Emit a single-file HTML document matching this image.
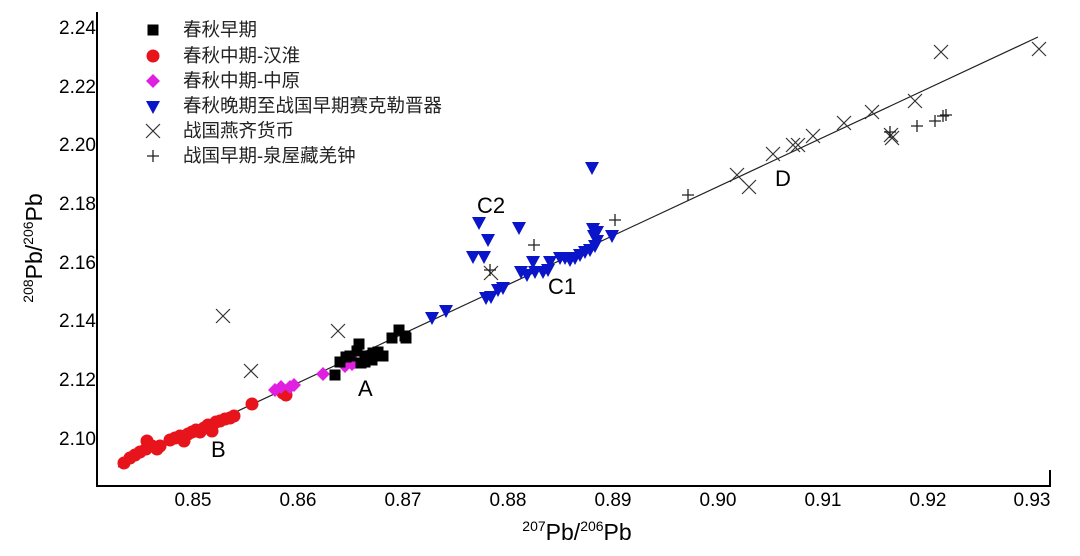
<!DOCTYPE html>
<html><head><meta charset="utf-8"><style>
body{margin:0;background:#fff;}
svg text{font-family:"Liberation Sans","Noto Sans CJK SC",sans-serif;}
</style></head><body>
<svg width="1080" height="551" viewBox="0 0 1080 551" xmlns="http://www.w3.org/2000/svg">
<defs>
<circle id="c" r="6.5" fill="#e8141c"/>
<rect id="s" x="-5.5" y="-5.5" width="11" height="11" fill="#000"/>
<polygon id="d" points="0,-7 7,0 0,7 -7,0" fill="#e020e0"/>
<polygon id="t" points="-7,-6 7,-6 0,7" fill="#0a14c8"/>
<path id="x" d="M-7,-7L7,7M7,-7L-7,7" stroke="#333" stroke-width="1.2" fill="none"/>
<path id="p" d="M-6,0H6M0,-6V6" stroke="#222" stroke-width="1.3" fill="none"/>
</defs>
<path d="M97,12V486H1050V470" stroke="#000" stroke-width="2" fill="none"/>
<g font-size="19" text-anchor="end">
<text x="96" y="34">2.24</text><text x="96" y="93">2.22</text><text x="96" y="151">2.20</text>
<text x="96" y="210">2.18</text><text x="96" y="269">2.16</text><text x="96" y="327">2.14</text>
<text x="96" y="386">2.12</text><text x="96" y="445">2.10</text>
</g>
<g font-size="19" text-anchor="middle">
<text x="193" y="506">0.85</text><text x="298" y="506">0.86</text><text x="403" y="506">0.87</text>
<text x="508" y="506">0.88</text><text x="613" y="506">0.89</text><text x="718" y="506">0.90</text>
<text x="823" y="506">0.91</text><text x="928" y="506">0.92</text><text x="1032" y="506">0.93</text>
</g>
<text x="577" y="540" font-size="23" text-anchor="middle"><tspan font-size="14" dy="-9">207</tspan><tspan dy="9">Pb/</tspan><tspan font-size="14" dy="-9">206</tspan><tspan dy="9">Pb</tspan></text>
<text transform="translate(42,248) rotate(-90)" font-size="23" text-anchor="middle"><tspan font-size="14" dy="-9">208</tspan><tspan dy="9">Pb/</tspan><tspan font-size="14" dy="-9">206</tspan><tspan dy="9">Pb</tspan></text>
<line x1="118" y1="467" x2="1038" y2="37" stroke="#222" stroke-width="1.2"/>
<g>
<use href="#c" x="124" y="463"/><use href="#c" x="130" y="458"/><use href="#c" x="135" y="455"/><use href="#c" x="140" y="452"/><use href="#c" x="146" y="449"/><use href="#c" x="147" y="441"/><use href="#c" x="152" y="446"/><use href="#c" x="157" y="449"/><use href="#c" x="160" y="446"/><use href="#c" x="170" y="440"/><use href="#c" x="175" y="438"/><use href="#c" x="180" y="436"/><use href="#c" x="184" y="441"/><use href="#c" x="188" y="434"/><use href="#c" x="192" y="432"/><use href="#c" x="196" y="430"/><use href="#c" x="200" y="432"/><use href="#c" x="204" y="428"/><use href="#c" x="208" y="425"/><use href="#c" x="212" y="431"/><use href="#c" x="216" y="422"/><use href="#c" x="220" y="421"/><use href="#c" x="225" y="419"/><use href="#c" x="230" y="418"/><use href="#c" x="234" y="416"/><use href="#c" x="252" y="404"/><use href="#c" x="283" y="393"/><use href="#c" x="286" y="395"/>
</g>
<g>
<use href="#d" x="275" y="390"/><use href="#d" x="281" y="387"/><use href="#d" x="290" y="387"/><use href="#d" x="294" y="385"/><use href="#d" x="323" y="374"/><use href="#d" x="345" y="366"/><use href="#d" x="352" y="364"/><use href="#d" x="355" y="362"/>
</g>
<g>
<use href="#s" x="335" y="375"/><use href="#s" x="340" y="362"/><use href="#s" x="346" y="357"/><use href="#s" x="350" y="356"/><use href="#s" x="357" y="351"/><use href="#s" x="359" y="344"/><use href="#s" x="361" y="363"/><use href="#s" x="365" y="362"/><use href="#s" x="368" y="356"/><use href="#s" x="373" y="353"/><use href="#s" x="378" y="352"/><use href="#s" x="383" y="356"/><use href="#s" x="372" y="360"/><use href="#s" x="392" y="338"/><use href="#s" x="399" y="330"/><use href="#s" x="405" y="336"/><use href="#s" x="406" y="338"/>
</g>
<g>
<use href="#t" x="479" y="223"/><use href="#t" x="488" y="240"/><use href="#t" x="484" y="257"/><use href="#t" x="473" y="257"/><use href="#t" x="519" y="228"/><use href="#t" x="491" y="297"/><use href="#t" x="498" y="290"/><use href="#t" x="533" y="262"/><use href="#t" x="535" y="272"/><use href="#t" x="543" y="272"/><use href="#t" x="550" y="262"/><use href="#t" x="560" y="258"/><use href="#t" x="565" y="258"/><use href="#t" x="570" y="260"/><use href="#t" x="575" y="258"/><use href="#t" x="580" y="255"/><use href="#t" x="585" y="252"/><use href="#t" x="590" y="250"/><use href="#t" x="595" y="246"/><use href="#t" x="597" y="241"/><use href="#t" x="594" y="236"/><use href="#t" x="593" y="229"/><use href="#t" x="597" y="232"/><use href="#t" x="612" y="236"/><use href="#t" x="592" y="168"/><use href="#t" x="432" y="318"/><use href="#t" x="446" y="311"/><use href="#t" x="527" y="275"/><use href="#t" x="521" y="272"/><use href="#t" x="486" y="298"/><use href="#t" x="503" y="288"/><use href="#t" x="548" y="270"/>
</g>
<g>
<use href="#x" x="223" y="316"/><use href="#x" x="251" y="371"/><use href="#x" x="338" y="331"/><use href="#x" x="491" y="273"/><use href="#x" x="941" y="52"/><use href="#x" x="1039" y="49"/><use href="#x" x="737" y="175"/><use href="#x" x="749" y="187"/><use href="#x" x="773" y="154"/><use href="#x" x="793" y="145"/><use href="#x" x="798" y="145"/><use href="#x" x="813" y="136"/><use href="#x" x="844" y="123"/><use href="#x" x="872" y="112"/><use href="#x" x="915" y="101"/><use href="#x" x="891" y="135"/><use href="#x" x="892" y="138"/>
</g>
<g>
<use href="#p" x="615" y="220"/><use href="#p" x="534" y="245"/><use href="#p" x="688" y="195"/><use href="#p" x="890" y="132"/><use href="#p" x="917" y="126"/><use href="#p" x="935" y="121"/><use href="#p" x="943" y="116"/><use href="#p" x="946" y="115"/><use href="#p" x="490" y="270"/>
</g>
<g font-size="22">
<text x="477" y="213">C2</text><text x="548" y="294">C1</text><text x="358" y="396">A</text><text x="211" y="457">B</text><text x="775" y="186">D</text>
</g>
<use href="#s" x="153" y="30"/><use href="#c" x="153" y="56"/><use href="#d" x="153" y="81"/><use href="#t" x="153" y="107"/><use href="#x" x="153" y="131"/><use href="#p" x="153" y="156"/>
<g font-size="18.5" fill="#222">
<text x="183" y="36">春秋早期</text>
<text x="183" y="62">春秋中期-汉淮</text>
<text x="183" y="87">春秋中期-中原</text>
<text x="183" y="112">春秋晚期至战国早期赛克勒晋器</text>
<text x="183" y="137">战国燕齐货币</text>
<text x="183" y="162">战国早期-泉屋藏𠫑羌钟</text>
</g>
</svg>
</body></html>
